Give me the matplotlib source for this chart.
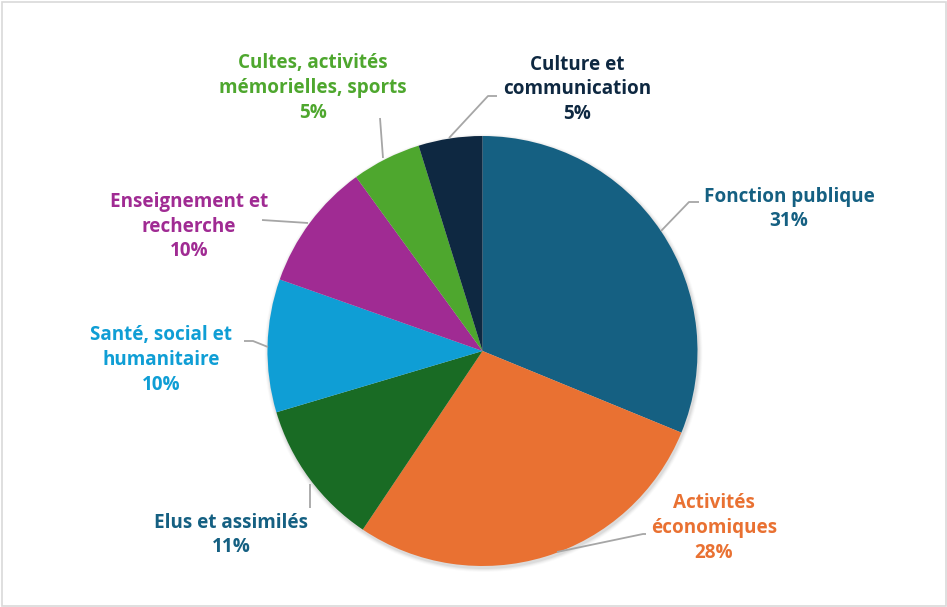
import matplotlib
matplotlib.use("Agg")
import matplotlib.pyplot as plt
from matplotlib.patches import Rectangle, Circle

categories = ["Fonction publique", "Activités\néconomiques", "Elus et assimilés",
              "Santé, social et\nhumanitaire", "Enseignement et\nrecherche",
              "Cultes, activités\nmémorielles, sports", "Culture et\ncommunication"]
values = [31.2, 28.2, 11.0, 10.0, 9.6, 5.2, 4.8]
colors = ["#156082", "#E97132", "#196B24", "#0F9ED5", "#A02B93", "#4EA72E", "#0E2841"]
label_colors = ["#156082", "#E97132", "#156082", "#0F9ED5", "#A02B93", "#4EA72E", "#0E2841"]

W, H = 947, 607
fig = plt.figure(figsize=(W / 100, H / 100), dpi=100)
ax = fig.add_axes([0, 0, 1, 1])
ax.set_xlim(0, W)
ax.set_ylim(H, 0)
ax.set_aspect("equal")
ax.axis("off")

# border
ax.add_patch(Rectangle((1.5, 1.5), W - 3, H - 3, fill=False, ec="#d9d9d9", lw=1.2))

cx, cy, r = 482.5, 351, 215
# soft shadow
for i, a in enumerate([0.05, 0.04, 0.03, 0.02]):
    ax.add_patch(Circle((cx + 1, cy + 2), r + 1 + i, color="black", alpha=a, lw=0, zorder=1))

# y axis inverted: counterclock=True in data becomes clockwise on screen
wedges, _ = ax.pie(values, colors=colors, startangle=-90, counterclock=True,
                   center=(cx, cy), radius=r, frame=True,
                   wedgeprops=dict(linewidth=0, zorder=2))
ax.set_xlim(0, W)
ax.set_ylim(H, 0)
ax.axis("off")

font = dict(family=["Open Sans", "DejaVu Sans"], fontweight="bold", fontsize=13.6,
            ha="center", va="center", linespacing=1.33)

label_pos = [(789, 209), (714, 528), (231, 535), (161, 360),
             (189, 226.5), (313, 88), (577, 89.5)]
leaders = [
    [(661, 231), (689, 202), (699, 202)],
    [(557, 552), (643, 534), (646, 534)],
    [(310, 484), (310, 508)],
    [(268, 347), (253, 341), (244, 341)],
    [(308, 223), (262, 220)],
    [(383, 158), (380, 118)],
    [(449, 138), (488, 96), (497, 96)],
]
for cat, v, col, (lx, ly), pts in zip(categories, values, label_colors, label_pos, leaders):
    ax.text(lx, ly, f"{cat}\n{round(v):d}%", color=col, zorder=5, **font)
    xs, ys = zip(*pts)
    ax.plot(xs, ys, color="#a6a6a6", lw=1.3, zorder=4, solid_capstyle="butt")

fig.savefig("out.png", dpi=100)
